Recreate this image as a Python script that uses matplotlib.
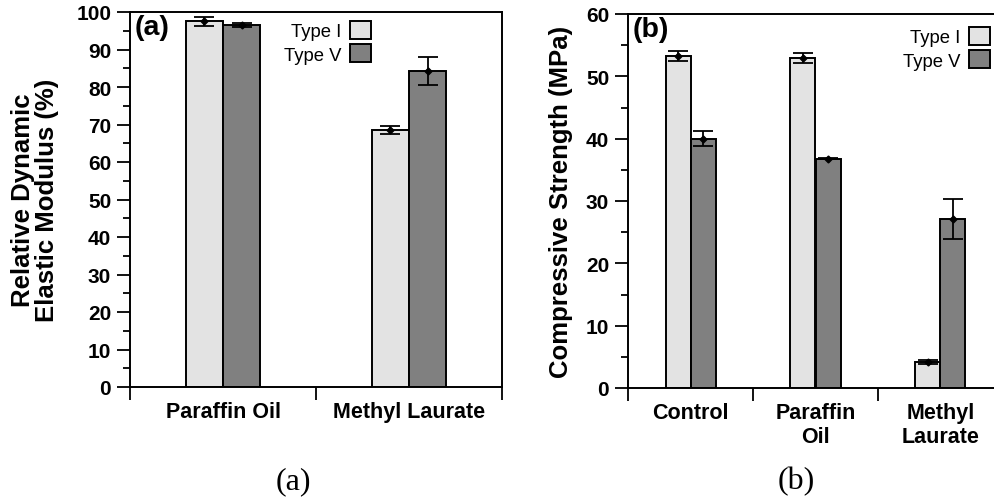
import numpy as np
import matplotlib
matplotlib.use("Agg")
import matplotlib.pyplot as plt
from matplotlib.ticker import MultipleLocator, FixedLocator

plt.rcParams['font.family'] = ['Liberation Sans', 'DejaVu Sans']

# (a) relative dynamic elastic modulus
cats_a = ["Paraffin Oil", "Methyl Laurate"]
rdem_type1 = [97.5, 68.6]
rdem_type1_err = [1.3, 1.1]
rdem_type5 = [96.5, 84.2]
rdem_type5_err = [0.5, 3.7]

# (b) compressive strength
cats_b = ["Control", "Paraffin\nOil", "Methyl\nLaurate"]
cs_type1 = [53.3, 53.0, 4.2]
cs_type1_err = [0.8, 0.8, 0.3]
cs_type5 = [40.0, 36.8, 27.1]
cs_type5_err = [1.2, 0.1, 3.2]

c_type1 = "#e3e3e3"
c_type5 = "#808080"
W, H = 995, 502


def bar_panel(ax, cats, v1, e1, v5, e5, ymax, ystep, ylabel, tag, leg_xy):
    n = len(cats)
    centers = np.arange(n) + 0.5
    w = 0.2
    ax.bar(centers - w / 2, v1, w, color=c_type1, edgecolor="black",
           linewidth=1.4, label="Type I", zorder=2)
    ax.bar(centers + w / 2, v5, w, color=c_type5, edgecolor="black",
           linewidth=1.4, label="Type V", zorder=2)
    ax.errorbar(centers - w / 2, v1, yerr=e1, fmt="D", color="black", ms=3.5,
                capsize=7, capthick=1.3, elinewidth=1.3, zorder=3)
    ax.errorbar(centers + w / 2, v5, yerr=e5, fmt="D", color="black", ms=3.5,
                capsize=7, capthick=1.3, elinewidth=1.3, zorder=3)

    ax.set_xlim(0, n)
    ax.set_ylim(0, ymax)
    ax.yaxis.set_major_locator(MultipleLocator(ystep))
    ax.yaxis.set_minor_locator(MultipleLocator(ystep / 2))
    ax.xaxis.set_major_locator(FixedLocator(np.arange(n + 1)))
    ax.xaxis.set_major_formatter(plt.NullFormatter())
    ax.xaxis.set_minor_locator(FixedLocator(centers))
    ax.set_xticklabels(cats, minor=True, fontsize=15.5, fontweight="bold")
    ax.tick_params(axis="x", which="major", direction="out", length=9.5, width=1.3)
    ax.tick_params(axis="x", which="minor", length=0, pad=10)
    ax.tick_params(axis="y", which="major", direction="out", length=9.5,
                   width=1.3, labelsize=15, pad=4)
    ax.tick_params(axis="y", which="minor", direction="out", length=5, width=1.3)
    for lab in ax.get_yticklabels():
        lab.set_fontweight("bold")
    for s in ax.spines.values():
        s.set_linewidth(1.4)

    ax.set_ylabel(ylabel, fontsize=18.5, fontweight="bold", linespacing=1.0)
    ax.text(0.013, 0.995, tag, transform=ax.transAxes, ha="left", va="top",
            fontsize=20.5, fontweight="bold")
    ax.legend(loc="upper right", bbox_to_anchor=leg_xy, frameon=False,
              markerfirst=False, fontsize=13.3, handlelength=1.15,
              handleheight=1.15, labelspacing=0.2, handletextpad=0.45,
              borderpad=0, borderaxespad=0)


fig = plt.figure(figsize=(W / 100, H / 100), dpi=100)
ax_a = fig.add_axes([130 / W, 1 - 388 / H, 372 / W, 375 / H])
ax_b = fig.add_axes([628 / W, 1 - 389 / H, 375 / W, 374 / H])

bar_panel(ax_a, cats_a, rdem_type1, rdem_type1_err, rdem_type5, rdem_type5_err,
          100, 10, "Relative Dynamic\nElastic Modulus (%)", "(a)",
          ((371 - 130) / 372, 1 - (22 - 13) / 375))
bar_panel(ax_b, cats_b, cs_type1, cs_type1_err, cs_type5, cs_type5_err,
          60, 10, "Compressive Strength (MPa)", "(b)",
          ((990 - 628) / 375, 1 - (28 - 15) / 374))

ax_a.yaxis.set_label_coords((59 - 130) / 372, 0.5)
ax_b.yaxis.set_label_coords((573 - 628) / 375, 0.5)

fig.text(293 / W, 1 - 482 / H, "(a)", ha="center", va="center",
         family="Liberation Serif", fontsize=23)
fig.text(796 / W, 1 - 482 / H, "(b)", ha="center", va="center",
         family="Liberation Serif", fontsize=23)

fig.savefig("out.png", dpi=100)
